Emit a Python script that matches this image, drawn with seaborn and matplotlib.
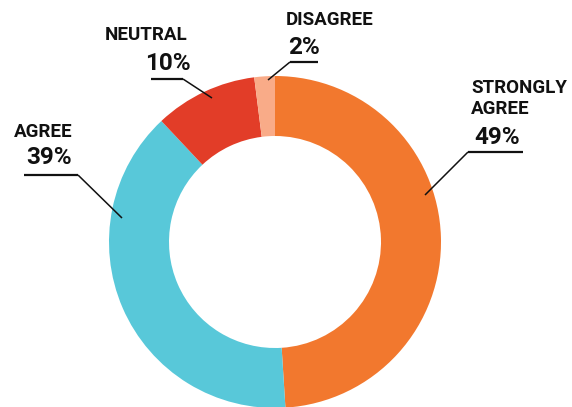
import matplotlib
matplotlib.use("Agg")
import matplotlib.pyplot as plt
import seaborn as sns

categories = ["STRONGLY\nAGREE", "AGREE", "NEUTRAL", "DISAGREE"]
shares = [49, 39, 10, 2]
colors = ["#F2782E", "#58C8D9", "#E23D28", "#F9AB88"]

sns.set_theme(style="white")
plt.rcParams["font.family"] = ["Roboto", "DejaVu Sans"]

W, H = 572, 407
fig = plt.figure(figsize=(W / 100, H / 100), dpi=100)
ax = fig.add_axes([0, 0, 1, 1])

cx, cy, r_out, r_in = 275, H - 242, 166, 106
ax.pie(shares, colors=colors, radius=r_out, center=(cx, cy), startangle=90,
       counterclock=False, frame=False,
       wedgeprops=dict(width=r_out - r_in, linewidth=0))
ax.set_xlim(0, W)
ax.set_ylim(0, H)
ax.set_aspect("equal")
ax.axis("off")


def py(y):
    return H - y


# label placement in pixel space (y measured from the top)
layout = {
    "STRONGLY\nAGREE": dict(nx=471, ny=98.5, px=474, py_=137, ha="left",
                            shelf=(468, 523, 152), tip=(425, 195)),
    "AGREE": dict(nx=14, ny=132, px=26, py_=158, ha="left",
                  shelf=(24, 78, 175), tip=(122, 218)),
    "NEUTRAL": dict(nx=105, ny=35, px=191, py_=63, ha="right",
                    shelf=(151, 183, 79), tip=(212, 98)),
    "DISAGREE": dict(nx=286, ny=20, px=288, py_=47, ha="left",
                     shelf=(290, 318, 62), tip=(268, 80)),
}

for name, val in zip(categories, shares):
    L = layout[name]
    ax.text(L["nx"], py(L["ny"]), name, ha="left", va="center",
            fontsize=13.5, fontweight="bold", color="#111111", linespacing=1.25)
    ax.text(L["px"], py(L["py_"]), f"{val}%", ha=L["ha"], va="center",
            fontsize=17.5, fontweight="bold", color="#111111")
    x0, x1, ys = L["shelf"]
    tx, ty = L["tip"]
    ax.plot([x1 if tx > x1 else x0, tx], [py(ys), py(ty)], color="#111111",
            lw=1.1, solid_capstyle="butt")
    ax.plot([x0, x1], [py(ys), py(ys)], color="#111111", lw=1.6,
            solid_capstyle="butt")

fig.savefig("out.png", dpi=100)
